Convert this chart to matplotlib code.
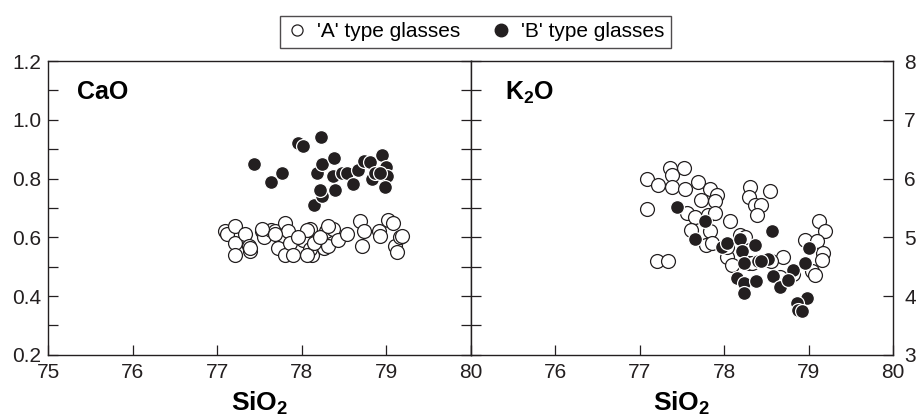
import matplotlib
matplotlib.use("Agg")
import matplotlib.pyplot as plt
from matplotlib.ticker import MultipleLocator, FixedLocator
from matplotlib.lines import Line2D

plt.rcParams['font.family'] = ['Liberation Sans', 'DejaVu Sans']
plt.rcParams['mathtext.fontset'] = 'custom'
plt.rcParams['mathtext.rm'] = 'Liberation Sans'
plt.rcParams['mathtext.bf'] = 'Liberation Sans:bold'

INK = '#231f20'

# CaO panel, 'A' type (open)
cao_a_sio2 = [77.09, 77.11, 77.21, 77.21, 77.21, 77.33, 77.37, 77.39, 77.39, 77.53,
              77.55, 77.64, 77.68, 77.72, 77.80, 77.80, 77.84, 77.86, 77.90, 78.02,
              78.10, 78.12, 78.20, 78.06, 78.10, 78.06, 78.26, 78.29, 78.31, 78.37,
              78.43, 78.53, 78.69, 78.73, 78.71, 78.91, 78.93, 79.02, 79.08, 79.10,
              79.12, 79.16, 79.18, 77.53, 77.68, 78.14, 78.21, 78.31, 77.95]
cao_a = [0.62, 0.61, 0.64, 0.58, 0.54, 0.61, 0.57, 0.555, 0.565, 0.62,
         0.60, 0.625, 0.62, 0.565, 0.65, 0.54, 0.62, 0.58, 0.54, 0.59,
         0.63, 0.54, 0.59, 0.625, 0.56, 0.54, 0.565, 0.62, 0.57, 0.63,
         0.59, 0.61, 0.655, 0.62, 0.57, 0.62, 0.605, 0.66, 0.65, 0.57,
         0.55, 0.60, 0.605, 0.63, 0.61, 0.58, 0.60, 0.64, 0.60]

# CaO panel, 'B' type (filled)
cao_b_sio2 = [77.44, 77.64, 77.77, 77.96, 78.02, 78.23, 78.15, 78.24, 78.21, 78.18,
              78.24, 78.38, 78.37, 78.39, 78.47, 78.53, 78.60, 78.67, 78.74, 78.81,
              78.83, 78.87, 78.95, 79.00, 79.01, 78.98, 78.93]
cao_b = [0.85, 0.79, 0.82, 0.92, 0.91, 0.94, 0.71, 0.74, 0.76, 0.82,
         0.85, 0.87, 0.81, 0.76, 0.82, 0.82, 0.78, 0.83, 0.86, 0.855,
         0.80, 0.82, 0.88, 0.84, 0.81, 0.77, 0.82]

# K2O panel, 'A' type (open)
k2o_a_sio2 = [77.08, 77.22, 77.36, 77.52, 77.38, 77.38, 77.54, 77.69, 77.83, 77.91,
              77.73, 77.89, 77.08, 77.56, 77.65, 77.81, 77.89, 78.07, 77.61, 77.83,
              77.79, 77.85, 78.03, 78.09, 78.19, 78.25, 77.20, 77.34, 78.03, 78.29,
              78.31, 78.29, 78.36, 78.54, 78.44, 78.39, 79.12, 79.19, 78.96, 79.10,
              79.17, 79.16, 78.70, 79.04, 79.08, 78.33, 78.82, 78.56, 78.66]
k2o_a = [6.00, 5.89, 6.18, 6.18, 6.06, 5.86, 5.83, 5.95, 5.83, 5.72,
         5.64, 5.61, 5.49, 5.41, 5.35, 5.38, 5.41, 5.27, 5.13, 5.10,
         4.87, 4.90, 4.67, 4.53, 5.04, 5.01, 4.59, 4.59, 4.84, 4.56,
         5.86, 5.69, 5.55, 5.78, 5.55, 5.38, 5.27, 5.10, 4.96, 4.93,
         4.73, 4.62, 4.67, 4.42, 4.36, 4.56, 4.37, 4.60, 4.32]

# K2O panel, 'B' type (filled)
k2o_b_sio2 = [77.44, 77.77, 77.65, 77.97, 78.03, 78.19, 78.21, 78.36, 78.40, 78.52,
              78.15, 78.24, 78.24, 78.38, 78.58, 78.57, 78.66, 78.82, 78.98, 78.86,
              78.88, 78.92, 79.00, 78.96, 78.75, 78.44, 78.23]
k2o_b = [5.52, 5.28, 4.97, 4.84, 4.90, 4.97, 4.76, 4.87, 4.60, 4.63,
         4.30, 4.22, 4.06, 4.25, 4.35, 5.11, 4.15, 4.45, 3.96, 3.89,
         3.77, 3.75, 4.82, 4.56, 4.28, 4.59, 4.56]

fig = plt.figure(figsize=(9.24, 4.18), dpi=100)
ax1 = fig.add_axes([0.052, 0.151, 0.4577, 0.703])
ax2 = fig.add_axes([0.5097, 0.151, 0.4568, 0.703])

open_kw = dict(s=100, facecolor='white', edgecolor=INK, linewidths=0.9, zorder=3)
fill_kw = dict(s=100, facecolor=INK, edgecolor='white', linewidths=0.9, zorder=4)

ax1.scatter(cao_a_sio2, cao_a, **open_kw)
ax1.scatter(cao_b_sio2, cao_b, **fill_kw)
ax2.scatter(k2o_a_sio2, k2o_a, **open_kw)
ax2.scatter(k2o_b_sio2, k2o_b, **fill_kw)

for ax in (ax1, ax2):
    ax.set_xlim(75, 80)
    ax.xaxis.set_major_locator(FixedLocator([75, 76, 77, 78, 79, 80]))
    for sp in ax.spines.values():
        sp.set_linewidth(1.0)
        sp.set_color(INK)
    ax.tick_params(axis='x', direction='in', length=7, width=0.9, colors=INK,
                   labelsize=15, pad=6, top=False)
    ax.set_xlabel('SiO$_\\mathbf{2}$', fontsize=19, fontweight='bold', labelpad=5)

ax1.set_xticklabels(['75', '76', '77', '78', '79', '80'])
ax2.set_xticklabels(['', '76', '77', '78', '79', '80'])

ax1.set_ylim(0.2, 1.2)
ax1.yaxis.set_major_locator(MultipleLocator(0.2))
ax1.yaxis.set_minor_locator(MultipleLocator(0.1))
ax1.yaxis.set_major_formatter(matplotlib.ticker.FormatStrFormatter('%.1f'))
ax1.tick_params(axis='y', which='both', direction='in', length=7, width=0.9,
                left=True, right=True, colors=INK, labelsize=15, pad=5)

ax2.set_ylim(3, 8)
ax2.yaxis.set_major_locator(MultipleLocator(1))
ax2.yaxis.set_minor_locator(MultipleLocator(0.5))
ax2.tick_params(axis='y', which='both', direction='in', length=7, width=0.9,
                left=True, right=True, labelleft=False, labelright=True,
                colors=INK, labelsize=15, pad=8)
ax2.tick_params(axis='y', which='minor', right=False)

ax1.text(0.068, 0.935, 'CaO', transform=ax1.transAxes, fontsize=18,
         fontweight='bold', va='top', ha='left')
ax2.text(0.08, 0.935, r'$\mathbf{K_2O}$', transform=ax2.transAxes, fontsize=18,
         va='top', ha='left')

handles = [Line2D([], [], linestyle='none', marker='o', markersize=8,
                  markerfacecolor='white', markeredgecolor=INK, markeredgewidth=0.9),
           Line2D([], [], linestyle='none', marker='o', markersize=9,
                  markerfacecolor=INK, markeredgecolor=INK)]
leg = fig.legend(handles, ["'A' type glasses", "'B' type glasses"], loc='center',
                 bbox_to_anchor=(0.5146, 0.924), ncol=2, fontsize=15,
                 frameon=True, fancybox=False, handletextpad=0.45,
                 columnspacing=1.5, borderpad=0.3, handlelength=1.0)
leg.get_frame().set_edgecolor(INK)
leg.get_frame().set_linewidth(1.0)

fig.savefig('out.png', dpi=100)
